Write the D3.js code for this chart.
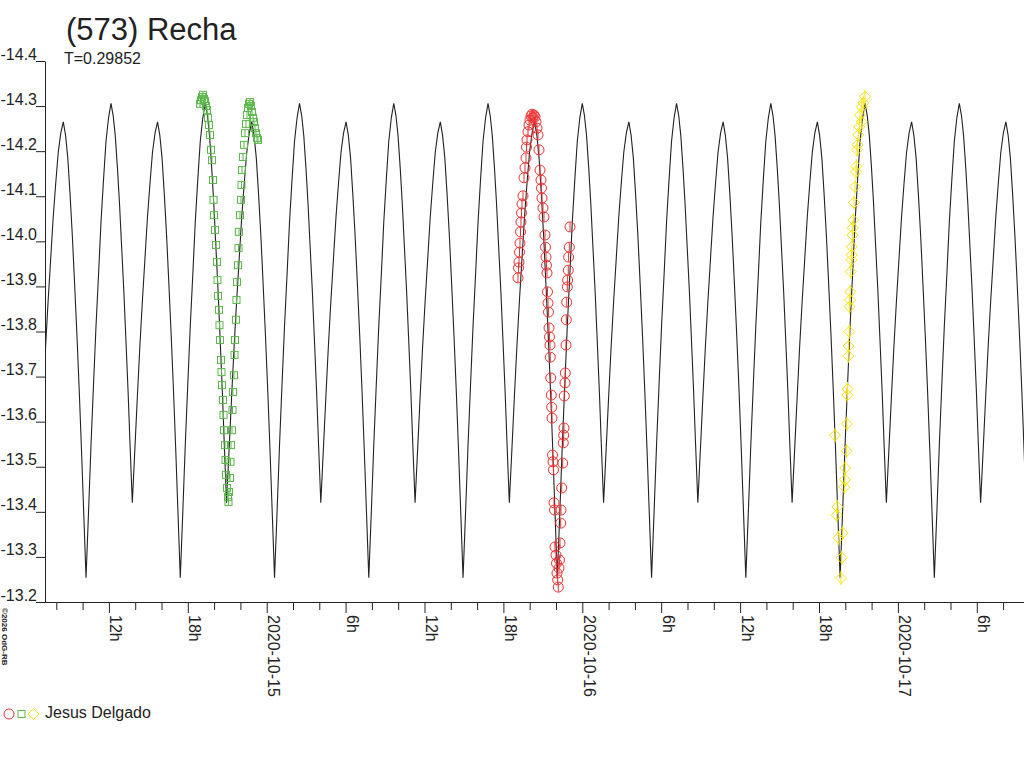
<!DOCTYPE html>
<html>
<head>
<meta charset="utf-8">
<script src="https://cdn.jsdelivr.net/npm/d3@7"></script>
<style>
body { margin: 0; background: #fff; }
text { font-family: "Liberation Sans", Arial, sans-serif; fill: #222; }
</style>
</head>
<body>
<script>
// times are hours from 2020-10-15 00:00 UTC, values are magnitudes
var title = "(573) Recha",
	subtitle = "T=0.29852",
	observer = "Jesus Delgado",
	credit = "\u00a92026 OdG-RB";

var yTicks = [-14.4, -14.3, -14.2, -14.1, -14.0, -13.9, -13.8, -13.7, -13.6, -13.5, -13.4, -13.3, -13.2];
var timeStart = -16.86, timeEnd = 57.59;

// model light curve, one rotation
var period = 7.168, epoch = -15.468;
var profilePhase = [0, .024, .048, .072, .096, .121, .145, .169, .193, .217, .241, .268, .294, .321, .347, .374, .400, .427, .453, .480,
	.506, .529, .551, .574, .596, .619, .642, .664, .687, .709, .732, .759, .786, .812, .839, .866, .893, .920, .946, .973];
var profileMag = [-14.265, -14.235, -14.184, -14.103, -14.012, -13.901, -13.790, -13.669, -13.537, -13.396, -13.254, -13.401, -13.549, -13.685,
	-13.812, -13.927, -14.043, -14.138, -14.222, -14.274, -14.306, -14.279, -14.235, -14.164, -14.085, -13.987, -13.890, -13.783, -13.668,
	-13.544, -13.420, -13.538, -13.657, -13.766, -13.868, -13.961, -14.054, -14.130, -14.197, -14.240];

// session 1 (squares)
var greenT = [-5.072, -4.996, -4.920, -4.844, -4.768, -4.692, -4.616, -4.540, -4.464, -4.388, -4.312, -4.236, -4.160, -4.084, -4.046, -4.008,
	-3.932, -3.856, -3.780, -3.742, -3.704, -3.628, -3.590, -3.552, -3.476, -3.438, -3.400, -3.324, -3.286, -3.248, -3.172, -3.134, -3.096,
	-3.020, -2.944, -2.906, -2.868, -2.792, -2.754, -2.716, -2.640, -2.602, -2.564, -2.488, -2.450, -2.412, -2.336, -2.298, -2.260, -2.184,
	-2.146, -2.108, -2.032, -1.956, -1.918, -1.880, -1.804, -1.728, -1.652, -1.576, -1.500, -1.424, -1.348, -1.272, -1.196, -1.120, -1.044,
	-0.968, -0.892, -0.816, -0.740, -0.664];
var greenMag = [-14.305, -14.313, -14.320, -14.325, -14.316, -14.311, -14.300, -14.291, -14.274, -14.258, -14.236, -14.203, -14.180, -14.136,
	-14.092, -14.058, -14.025, -13.992, -13.954, -13.914, -13.879, -13.848, -13.814, -13.781, -13.737, -13.710, -13.681, -13.648, -13.615,
	-13.581, -13.548, -13.515, -13.482, -13.453, -13.433, -13.422, -13.444, -13.475, -13.511, -13.548, -13.581, -13.626, -13.666, -13.703,
	-13.748, -13.781, -13.826, -13.870, -13.910, -13.947, -13.985, -14.021, -14.058, -14.092, -14.125, -14.158, -14.187, -14.214, -14.240,
	-14.260, -14.280, -14.296, -14.305, -14.309, -14.300, -14.287, -14.274, -14.265, -14.251, -14.240, -14.229, -14.225];

// session 2 (circles)
var redT = [19.110, 19.148, 19.186, 19.224, 19.262, 19.300, 19.338, 19.376, 19.414, 19.490, 19.566, 19.643, 19.719, 19.757, 19.795, 19.871,
	19.947, 20.023, 20.099, 20.175, 20.251, 20.327, 20.403, 20.479, 20.555, 20.631, 20.707, 20.783, 20.859, 20.897, 20.935, 21.011, 21.087,
	21.164, 21.202, 21.240, 21.278, 21.316, 21.354, 21.392, 21.430, 21.468, 21.506, 21.544, 21.567, 21.597, 21.643, 21.673, 21.696, 21.734,
	21.772, 21.810, 21.848, 21.886, 21.924, 22.000, 22.038, 22.076, 22.129, 22.175, 22.228, 22.266, 22.304, 22.357, 22.380, 22.433, 22.509,
	22.555, 22.585, 22.608, 22.631, 22.685, 22.708, 22.761, 22.784, 22.814, 22.860, 22.883, 22.936, 22.959, 23.012, 23.065];
var redMag = [-13.919, -13.941, -13.954, -13.976, -13.996, -14.021, -14.043, -14.063, -14.083, -14.101, -14.141, -14.163, -14.185, -14.209,
	-14.225, -14.243, -14.258, -14.269, -14.278, -14.282, -14.274, -14.280, -14.276, -14.265, -14.251, -14.236, -14.203, -14.158, -14.136,
	-14.118, -14.096, -14.074, -14.054, -14.014, -13.987, -13.965, -13.947, -13.930, -13.888, -13.863, -13.843, -13.808, -13.788, -13.770,
	-13.743, -13.697, -13.659, -13.632, -13.608, -13.526, -13.511, -13.493, -13.420, -13.404, -13.322, -13.304, -13.286, -13.264, -13.249,
	-13.233, -13.275, -13.293, -13.331, -13.375, -13.404, -13.453, -13.508, -13.553, -13.570, -13.586, -13.657, -13.686, -13.708, -13.770,
	-13.826, -13.865, -13.899, -13.914, -13.936, -13.965, -13.987, -14.032];

// session 3 (diamonds)
var yellowT = [43.217, 43.346, 43.392, 43.468, 43.673, 43.727, 43.803, 43.924, 43.978, 43.993, 44.107, 44.122, 44.152, 44.168, 44.228, 44.251,
	44.305, 44.320, 44.358, 44.373, 44.411, 44.472, 44.487, 44.502, 44.548, 44.571, 44.609, 44.662, 44.738, 44.814, 44.837, 44.890, 44.928,
	44.989, 45.065, 45.118, 45.248, 45.263, 45.369, 45.499];
var yellowMag = [-13.570, -13.393, -13.411, -13.342, -13.253, -13.298, -13.353, -13.455, -13.471, -13.497, -13.535, -13.595, -13.659, -13.672,
	-13.746, -13.768, -13.800, -13.855, -13.870, -13.888, -13.933, -13.959, -13.970, -13.988, -14.014, -14.030, -14.047, -14.086, -14.121,
	-14.154, -14.166, -14.203, -14.214, -14.236, -14.254, -14.280, -14.265, -14.298, -14.307, -14.321];

var sessionErr = [0.008, 0.010, 0.016];

(function(){
	var base = Date.UTC(2020, 9, 15),
		left = 45, right = 1024, top = 61, bottom = 602;

	function toDate(h) { return new Date(base + h * 3600e3); }

	var svg = d3.select("body").append("svg")
		.attr("width", 1024)
		.attr("height", 768);

	var x = d3.scaleUtc()
		.domain([toDate(timeStart), toDate(timeEnd)])
		.range([left, right]);
	var y = d3.scaleLinear()
		.domain([-14.4, -13.2])
		.range([top, bottom]);

	svg.append("defs").append("clipPath")
		.attr("id", "plot")
		.append("rect")
		.attr("x", left).attr("y", 0)
		.attr("width", right - left).attr("height", bottom);

	// y axis
	var yAxis = svg.append("g")
		.attr("transform", "translate(" + left + ",0)")
		.call(d3.axisLeft(y).tickValues(yTicks).tickSize(9).tickSizeOuter(0)
			.tickFormat(function(d) { return d.toFixed(1); }));
	yAxis.select(".domain").attr("stroke", "#222");
	yAxis.selectAll(".tick line").attr("stroke", "#222");
	yAxis.selectAll(".tick text")
		.attr("x", -8).attr("y", -2).attr("dy", 0)
		.style("font-size", "16px")
		.style("font-family", "'Liberation Sans', Arial, sans-serif")
		.attr("fill", "#222");

	// x axis
	function fmtX(d) {
		var h = d.getUTCHours();
		if (h === 0) return d3.utcFormat("%Y-%m-%d")(d);
		if (h % 6 === 0) return h + "h";
		return "";
	}
	var xAxis = svg.append("g")
		.attr("transform", "translate(0," + bottom + ")")
		.call(d3.axisBottom(x).ticks(d3.utcHour.every(2)).tickSize(8).tickSizeOuter(0).tickFormat(fmtX));
	xAxis.select(".domain").attr("stroke", "#222").attr("d", "M" + (left - 9) + ",0.5H" + right);
	xAxis.selectAll(".tick line")
		.attr("stroke", "#222")
		.attr("y2", function(d) { return fmtX(d) ? 11 : 8; });
	xAxis.selectAll(".tick text")
		.attr("x", 0).attr("y", 0).attr("dy", 0)
		.attr("text-anchor", "start")
		.attr("transform", "translate(1,13) rotate(90)")
		.style("font-size", "16px")
		.style("font-family", "'Liberation Sans', Arial, sans-serif")
		.attr("fill", "#222");

	// model curve, the profile repeated every rotation
	var model = [], k;
	for (k = -3; k <= 11; k++) {
		profilePhase.forEach(function(p, i) {
			model.push({t: epoch + (k + p) * period, m: profileMag[i]});
		});
	}
	var line = d3.line()
		.x(function(d) { return x(toDate(d.t)); })
		.y(function(d) { return y(d.m); });
	svg.append("path")
		.datum(model)
		.attr("clip-path", "url(#plot)")
		.attr("fill", "none")
		.attr("stroke", "#222")
		.attr("stroke-width", 1.1)
		.attr("d", line);

	// observations
	function drawSymbol(g, shape, cx, cy) {
		if (shape === "circle") {
			g.append("circle").attr("cx", cx).attr("cy", cy).attr("r", 5);
		} else if (shape === "square") {
			g.append("rect").attr("x", cx - 3.5).attr("y", cy - 3.5).attr("width", 7).attr("height", 7);
		} else {
			g.append("path").attr("d", "M" + cx + "," + (cy - 5.5) + "L" + (cx + 5.5) + "," + cy +
				"L" + cx + "," + (cy + 5.5) + "L" + (cx - 5.5) + "," + cy + "Z");
		}
	}

	var sessions = [
		{t: greenT, m: greenMag, color: "#5cb84a", shape: "square", err: sessionErr[0]},
		{t: redT, m: redMag, color: "#ea3030", shape: "circle", err: sessionErr[1]},
		{t: yellowT, m: yellowMag, color: "#f7e412", shape: "diamond", err: sessionErr[2]}
	];
	sessions.forEach(function(s) {
		var g = svg.append("g")
			.attr("fill", "none")
			.attr("stroke", s.color)
			.attr("stroke-width", 1);
		s.t.forEach(function(t, i) {
			var cx = x(toDate(t)), cy = y(s.m[i]);
			g.append("line")
				.attr("x1", cx).attr("x2", cx)
				.attr("y1", y(s.m[i] - s.err)).attr("y2", y(s.m[i] + s.err));
			drawSymbol(g, s.shape, cx, cy);
		});
	});

	// titles
	svg.append("text")
		.attr("x", 66).attr("y", 40)
		.style("font-size", "31px")
		.text(title);
	svg.append("text")
		.attr("x", 64).attr("y", 64)
		.style("font-size", "16px")
		.text(subtitle);

	// credit
	svg.append("text")
		.attr("transform", "translate(2,608) rotate(90)")
		.style("font-size", "8px")
		.style("font-weight", "bold")
		.text(credit);

	// legend
	var leg = svg.append("g")
		.attr("fill", "none")
		.attr("stroke-width", 1);
	[["#ea3030", "circle", 9], ["#5cb84a", "square", 21.5], ["#f7e412", "diamond", 33.5]].forEach(function(l) {
		var g = leg.append("g").attr("stroke", l[0]);
		drawSymbol(g, l[1], l[2], 714);
	});
	svg.append("text")
		.attr("x", 45).attr("y", 718)
		.style("font-size", "16px")
		.text(observer);
}());
</script>
</body>
</html>
